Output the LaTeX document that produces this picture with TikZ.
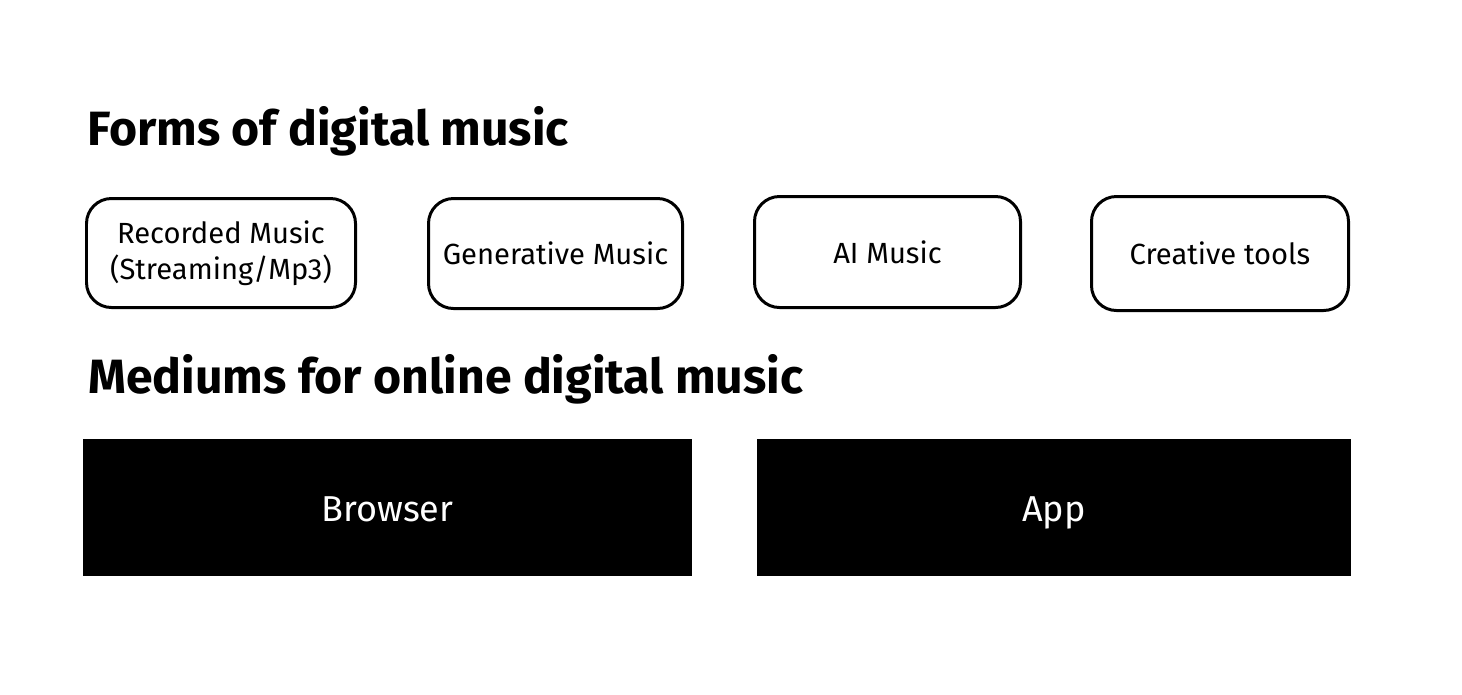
\documentclass[tikz,border=0pt]{standalone}
\usepackage{fontspec}
\setmainfont{Fira Sans}
\usetikzlibrary{positioning}

\tikzset{
  heading/.style={anchor=base west, inner sep=0pt, font=\fontsize{27.4}{32}\selectfont\bfseries},
  formbox/.style={draw=black, line width=1.7pt, rounded corners=0.5cm, align=center,
    inner sep=0pt, font=\fontsize{16.6}{20.5}\selectfont},
  mediumbox/.style={fill=black, text=white, inner sep=0pt, text height=15.4pt, text depth=0pt,
    font=\fontsize{20.5}{24}\selectfont}
}

\begin{document}
\begin{tikzpicture}[x=0.02cm, y=-0.02cm]

    % Page frame
    \useasboundingbox (0,0) rectangle (1462,694);

    % Headings
    \node[heading] (formsTitle) at (87,145) {Forms of digital music};
    \node[heading] (mediumsTitle) at (88,393) {Mediums for online digital music};

    % Forms of digital music
    \node[formbox, minimum width=269*0.02cm, minimum height=109*0.02cm] (recorded) at (221,253) {Recorded Music\\(Streaming/Mp3)};
    \node[formbox, minimum width=254*0.02cm, minimum height=110*0.02cm] (generative) at (555.5,253.5) {Generative Music};
    \node[formbox, minimum width=266*0.02cm, minimum height=111*0.02cm] (aimusic) at (887.5,252) {AI Music};
    \node[formbox, minimum width=257*0.02cm, minimum height=114*0.02cm] (creative) at (1220,253.5) {Creative tools};

    % Mediums
    \node[mediumbox, minimum width=609*0.02cm, minimum height=137*0.02cm] (browser) at (387.5,507.5) {Browser};
    \node[mediumbox, minimum width=594*0.02cm, minimum height=137*0.02cm] (app) at (1054,507.5) {App};

\end{tikzpicture}
\end{document}
